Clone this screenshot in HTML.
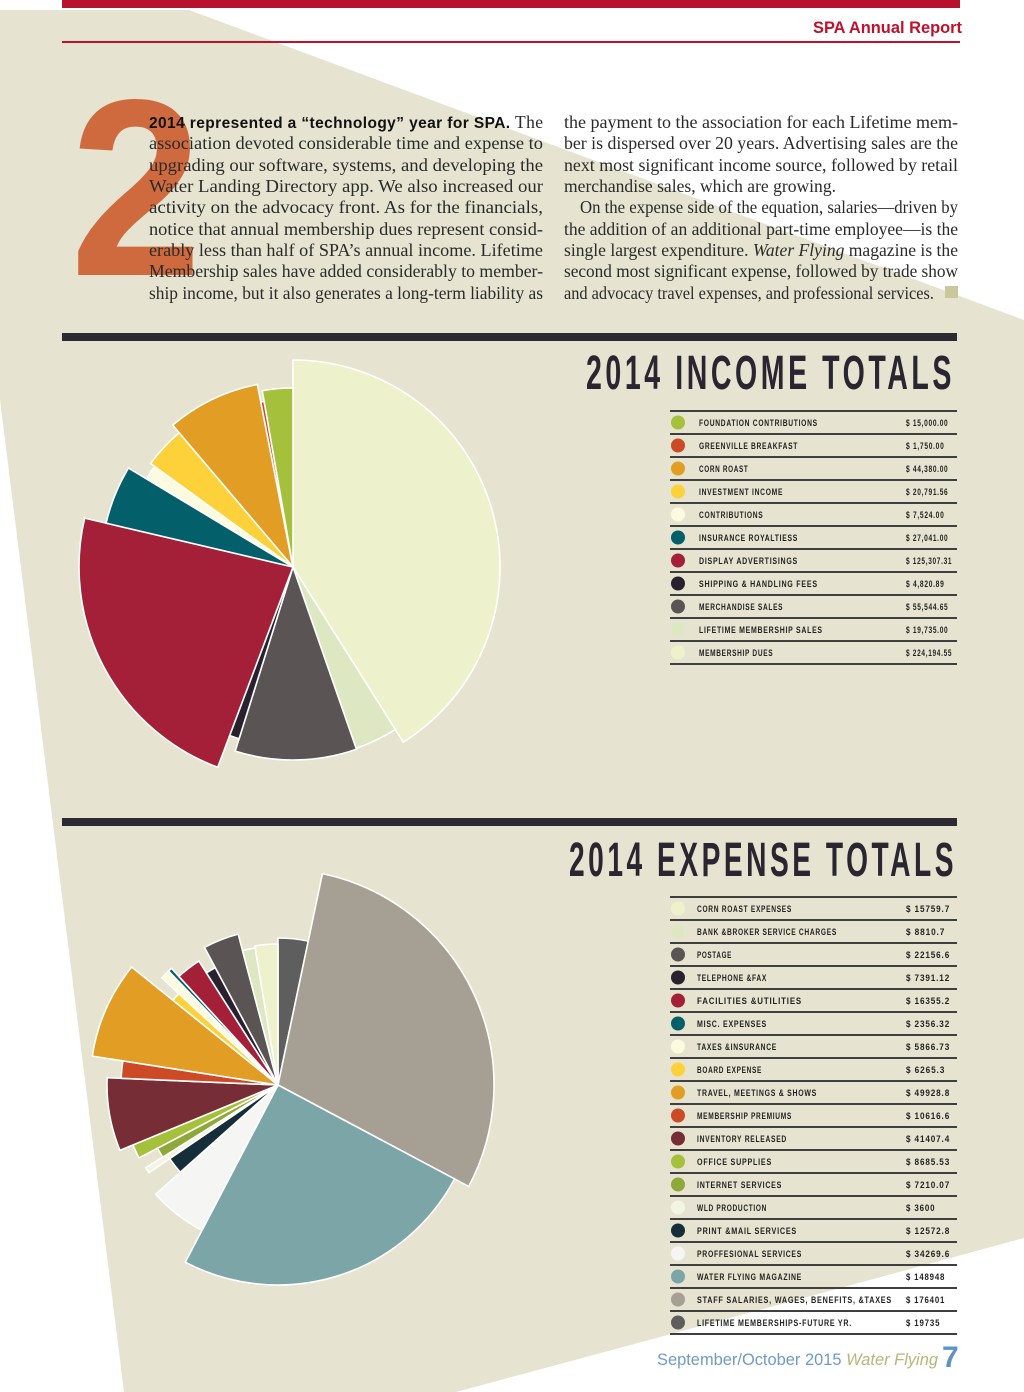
<!DOCTYPE html>
<html><head><meta charset="utf-8"><title>SPA Annual Report</title>
<style>
html,body{margin:0;padding:0;background:#fff;}
svg{display:block;}
.serif{font-family:"Liberation Serif",serif;font-size:17.5px;fill:#2a2a2a;}
.lg{font-family:"Liberation Sans",sans-serif;font-weight:bold;font-size:9.5px;fill:#222;letter-spacing:1px;}
</style></head>
<body>
<svg id="page" xmlns="http://www.w3.org/2000/svg" width="1024" height="1392" viewBox="0 0 1024 1392">
  <rect x="0" y="0" width="1024" height="1392" fill="#ffffff"/>
  <polygon points="0,10 189,10 1024,320 1024,1238 660,1337 456,1392 124,1392 0,400" fill="#e6e4d0"/>
  <rect x="62" y="0" width="898" height="8" fill="#b8112e"/>
  <text x="962" y="33" text-anchor="end" font-family="Liberation Sans, sans-serif" font-weight="bold" font-size="17" fill="#c0102c" textLength="149" lengthAdjust="spacingAndGlyphs">SPA Annual Report</text>
  <rect x="62" y="41" width="898" height="2" fill="#c0102c"/>

  <text x="70" y="275" font-family="Liberation Sans, sans-serif" font-weight="bold" font-size="252" fill="#cf6a3e" textLength="132" lengthAdjust="spacingAndGlyphs">2</text>

  <g>
    <text class="serif" x="149" y="128" textLength="394" lengthAdjust="spacing"><tspan font-family="Liberation Sans, sans-serif" font-weight="bold" font-size="15.5" fill="#111">2014 represented a “technology” year for SPA.</tspan> The</text>
    <text class="serif" x="149" y="149" textLength="394" lengthAdjust="spacingAndGlyphs">association devoted considerable time and expense to</text>
    <text class="serif" x="149" y="171" textLength="394" lengthAdjust="spacingAndGlyphs">upgrading our software, systems, and developing the</text>
    <text class="serif" x="149" y="192" textLength="394" lengthAdjust="spacingAndGlyphs">Water Landing Directory app. We also increased our</text>
    <text class="serif" x="149" y="213" textLength="394" lengthAdjust="spacingAndGlyphs">activity on the advocacy front. As for the financials,</text>
    <text class="serif" x="149" y="235" textLength="394" lengthAdjust="spacingAndGlyphs">notice that annual membership dues represent consid-</text>
    <text class="serif" x="149" y="256" textLength="394" lengthAdjust="spacingAndGlyphs">erably less than half of SPA’s annual income. Lifetime</text>
    <text class="serif" x="149" y="277" textLength="394" lengthAdjust="spacingAndGlyphs">Membership sales have added considerably to member-</text>
    <text class="serif" x="149" y="299" textLength="394" lengthAdjust="spacingAndGlyphs">ship income, but it also generates a long-term liability as</text>
  </g>
  <g>
    <text class="serif" x="564" y="128" textLength="394" lengthAdjust="spacingAndGlyphs">the payment to the association for each Lifetime mem-</text>
    <text class="serif" x="564" y="149" textLength="394" lengthAdjust="spacingAndGlyphs">ber is dispersed over 20 years. Advertising sales are the</text>
    <text class="serif" x="564" y="171" textLength="394" lengthAdjust="spacingAndGlyphs">next most significant income source, followed by retail</text>
    <text class="serif" x="564" y="192" textLength="272" lengthAdjust="spacingAndGlyphs">merchandise sales, which are growing.</text>
    <text class="serif" x="580" y="213" textLength="378" lengthAdjust="spacingAndGlyphs">On the expense side of the equation, salaries—driven by</text>
    <text class="serif" x="564" y="235" textLength="394" lengthAdjust="spacingAndGlyphs">the addition of an additional part-time employee—is the</text>
    <text class="serif" x="564" y="256" textLength="394" lengthAdjust="spacingAndGlyphs">single largest expenditure. <tspan font-style="italic">Water Flying</tspan> magazine is the</text>
    <text class="serif" x="564" y="277" textLength="394" lengthAdjust="spacingAndGlyphs">second most significant expense, followed by trade show</text>
    <text class="serif" x="564" y="299" textLength="370" lengthAdjust="spacingAndGlyphs">and advocacy travel expenses, and professional services.</text>
    <rect x="945" y="286" width="13" height="12" fill="#c9c79c"/>
  </g>

  <rect x="62" y="333" width="895" height="8" fill="#2d2a33"/>
  <text x="586" y="389" font-family="Liberation Sans, sans-serif" font-weight="bold" font-size="48" letter-spacing="6" fill="#2a2530" textLength="369" lengthAdjust="spacingAndGlyphs">2014 INCOME TOTALS</text>
  <g id="incomePie"></g>
  <g id="incomeLegend"></g>

  <rect x="62" y="818" width="895" height="8" fill="#2d2a33"/>
  <text x="569" y="876" font-family="Liberation Sans, sans-serif" font-weight="bold" font-size="48" letter-spacing="6" fill="#2a2530" textLength="388" lengthAdjust="spacingAndGlyphs">2014 EXPENSE TOTALS</text>
  <g id="expensePie"></g>
  <g id="expenseLegend"></g>

  <text x="657" y="1365" font-family="Liberation Sans, sans-serif" font-size="17" fill="#6f9cc4" textLength="281" lengthAdjust="spacingAndGlyphs">September/October 2015 <tspan font-style="italic" fill="#b5b77a">Water Flying</tspan></text>
  <text x="942" y="1367" font-family="Liberation Sans, sans-serif" font-weight="bold" font-size="30" fill="#5e93c4">7</text>
</svg>
<script>
const incomeCategories = ["FOUNDATION CONTRIBUTIONS","GREENVILLE BREAKFAST","CORN ROAST","INVESTMENT INCOME","CONTRIBUTIONS","INSURANCE ROYALTIESS","DISPLAY ADVERTISINGS","SHIPPING & HANDLING FEES","MERCHANDISE SALES","LIFETIME MEMBERSHIP SALES","MEMBERSHIP DUES"];
const incomeValues = [15000.00,1750.00,44380.00,20791.56,7524.00,27041.00,125307.31,4820.89,55544.65,19735.00,224194.55];
const incomeLabels = ["$ 15,000.00","$ 1,750.00","$ 44,380.00","$ 20,791.56","$ 7,524.00","$ 27,041.00","$ 125,307.31","$ 4,820.89","$ 55,544.65","$ 19,735.00","$ 224,194.55"];
const incomeColors = ["#a5c03a","#cc4a26","#e29d24","#fdd13a","#fcfadf","#03606a","#a32038","#29222e","#5a5454","#dde8c3","#eef2cc"];
const incomeRadii = [179,168,186,176,171,192,214,180,193,192,207];

const expenseCategories = ["CORN ROAST EXPENSES","BANK &BROKER SERVICE CHARGES","POSTAGE","TELEPHONE &FAX","FACILITIES &UTILITIES","MISC. EXPENSES","TAXES &INSURANCE","BOARD EXPENSE","TRAVEL, MEETINGS & SHOWS","MEMBERSHIP PREMIUMS","INVENTORY RELEASED","OFFICE SUPPLIES","INTERNET SERVICES","WLD PRODUCTION","PRINT &MAIL SERVICES","PROFFESIONAL SERVICES","WATER FLYING MAGAZINE","STAFF SALARIES, WAGES, BENEFITS, &TAXES","LIFETIME MEMBERSHIPS-FUTURE YR."];
const expenseValues = [15759.7,8810.7,22156.6,7391.12,16355.2,2356.32,5866.73,6265.3,49928.8,10616.6,41407.4,8685.53,7210.07,3600,12572.8,34269.6,148948,176401,19735];
const expenseLabels = ["$ 15759.7","$ 8810.7","$ 22156.6","$ 7391.12","$ 16355.2","$ 2356.32","$ 5866.73","$ 6265.3","$ 49928.8","$ 10616.6","$ 41407.4","$ 8685.53","$ 7210.07","$ 3600","$ 12572.8","$ 34269.6","$ 148948","$ 176401","$ 19735"];
const expenseColors = ["#eef2cc","#dde8c3","#5a5454","#29222e","#a32038","#03606a","#fcfadf","#fdd13a","#e29d24","#cc4a26","#772d35","#a5c03a","#8ea83a","#f4f4e2","#152e3a","#f5f5f3","#7ba5a6","#a69f93","#5e5e5e"];
const expenseRadii = [141,139,156,133,147,158,158,135,188,157,171,157,136,156,131,164,200,216,147];

const NS = "http://www.w3.org/2000/svg";
function mk(tag, attrs){const e=document.createElementNS(NS,tag);for(const k in attrs)e.setAttribute(k,attrs[k]);return e;}

function angleScale(v,total){return v/total*Math.PI*2;}
function pt(cx,cy,r,a){return [cx+r*Math.sin(a), cy-r*Math.cos(a)];}

function drawPie(gid, values, colors, radii, cats, cx, cy, prefix){
  const g=document.getElementById(gid);
  const total=values.reduce((s,v)=>s+v,0);
  let a=0;
  for(let i=values.length-1;i>=0;i--){
    const sw=angleScale(values[i],total);
    const r=radii[i];
    const p0=pt(cx,cy,r,a), p1=pt(cx,cy,r,a+sw);
    const large=sw>Math.PI?1:0;
    const d=`M${cx},${cy} L${p0[0].toFixed(2)},${p0[1].toFixed(2)} A${r},${r} 0 ${large} 1 ${p1[0].toFixed(2)},${p1[1].toFixed(2)} Z`;
    const path=mk("path",{d:d,fill:colors[i],stroke:"#ffffff","stroke-width":"1.6","stroke-linejoin":"round"});
    
    
    g.appendChild(path);
    a+=sw;
  }
}

function drawLegend(gid, cats, labels, colors, top, step, labelX, charW, valCharW, prefix){
  const g=document.getElementById(gid);
  for(let i=0;i<=cats.length;i++){
    const y=top+i*step;
    const ln=mk("rect",{x:670,y:y-1,width:287,height:2,fill:"#3f3f3f"});
    
    
    g.appendChild(ln);
  }
  for(let i=0;i<cats.length;i++){
    const cy=top+i*step+step/2;
    const c=mk("circle",{cx:678,cy:cy,r:7,fill:colors[i]});
    
    
    g.appendChild(c);
    const t=mk("text",{x:labelX,y:cy+3.5,"class":"lg",textLength:(cats[i].length*charW).toFixed(1),lengthAdjust:"spacingAndGlyphs"});
    t.textContent=cats[i];
    
    
    g.appendChild(t);
    const v=mk("text",{x:906,y:cy+3.5,"class":"lg",textLength:(labels[i].length*valCharW).toFixed(1),lengthAdjust:"spacingAndGlyphs"});
    v.textContent=labels[i];
    
    
    g.appendChild(v);
  }
}

drawPie("incomePie", incomeValues, incomeColors, incomeRadii, incomeCategories, 293, 567, "income");
drawLegend("incomeLegend", incomeCategories, incomeLabels, incomeColors, 411, 23, 699, 4.95, 3.85, "income");
drawPie("expensePie", expenseValues, expenseColors, expenseRadii, expenseCategories, 278, 1085, "expense");
drawLegend("expenseLegend", expenseCategories, expenseLabels, expenseColors, 897, 23, 697, 5.0, 4.9, "expense");
</script>
</body></html>
